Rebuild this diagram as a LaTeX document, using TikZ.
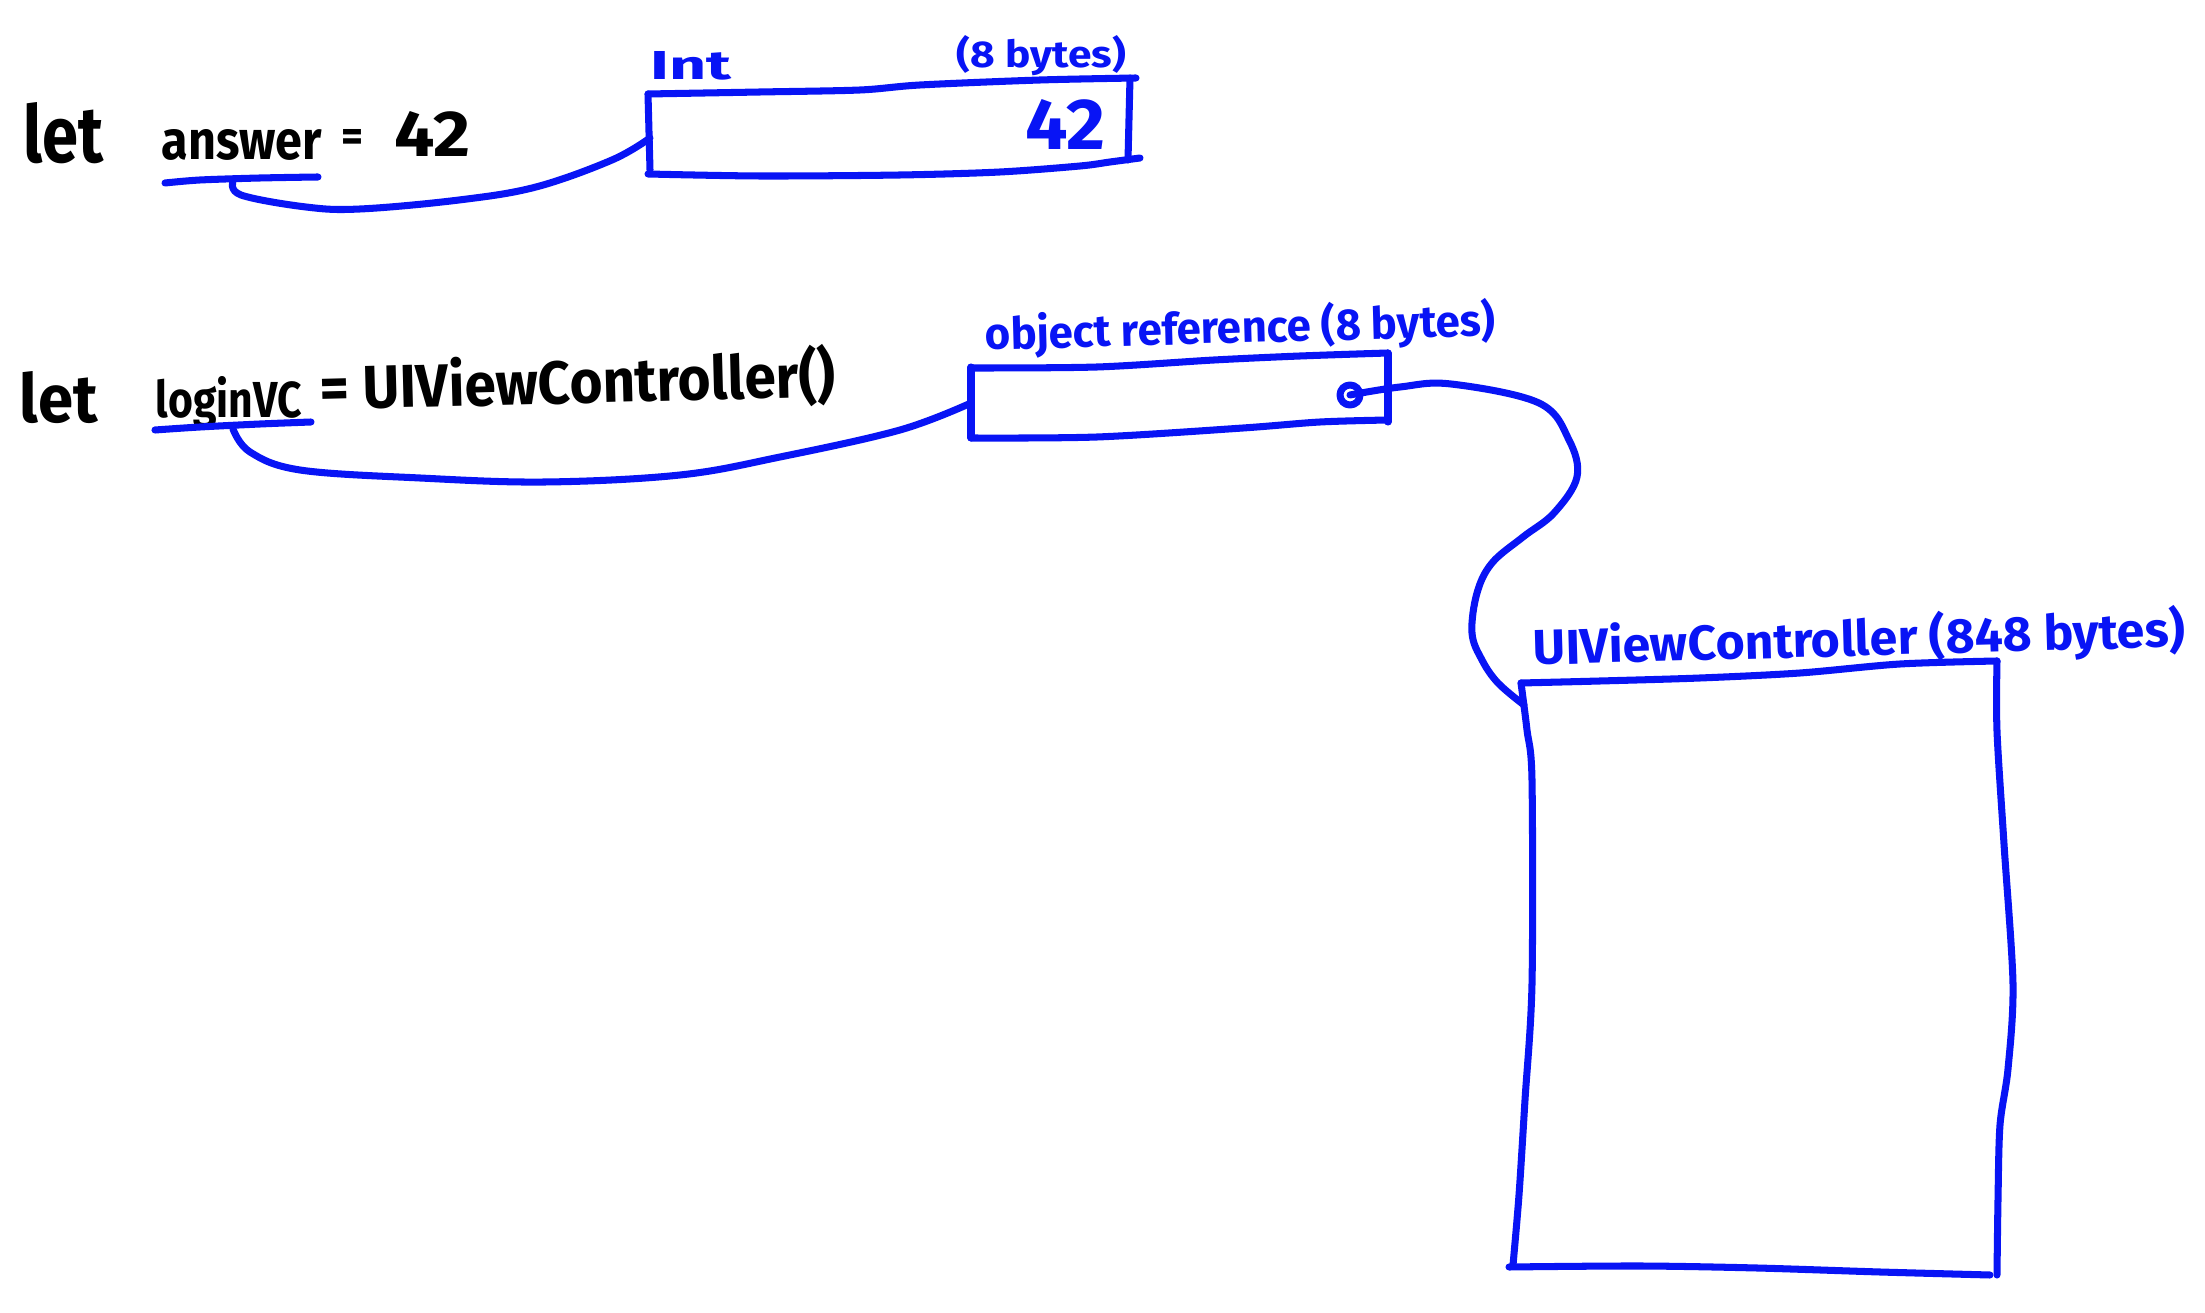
\documentclass[tikz,border=0pt]{standalone}
\usepackage{fontspec}
\setmainfont{Fira Sans}
\usepackage{graphicx}
\definecolor{ink}{RGB}{8,20,245}
\begin{document}
\begin{tikzpicture}[x=0.01cm,y=-0.01cm, line cap=round, line join=round,
  pen/.style={draw=ink, line width=2pt},
  code/.style={inner sep=0, anchor=base west, text=black, font=\bfseries},
  note/.style={inner sep=0, anchor=base west, text=ink, font=\bfseries}]
\useasboundingbox[fill=white] (0,0) rectangle (2205,1313);

% ---- code texts
\node[code] (let1) at (23,163) {\resizebox{0.80cm}{0.60cm}{let}};
\node[code] (answer) at (161,160) {\resizebox{1.60cm}{0.30cm}{answer}};
\node[code] (eq1) at (341,152) {\resizebox{0.22cm}{0.22cm}{=}};
\node[code] (v42) at (394,157) {\resizebox{0.76cm}{0.45cm}{42}};

\node[code] (let2) at (19,423) {\resizebox{0.78cm}{0.51cm}{let}};
\node[code] (login) at (155,418) {\resizebox{1.46cm}{0.41cm}{loginVC}};
\node[code, rotate=1.5] (ctor) at (320,410) {\resizebox{5.15cm}{0.52cm}{= UIViewController()}};

% ---- blue labels
\node[note] (intlbl) at (650,80) {\resizebox{0.81cm}{0.28cm}{Int}};
\node[note] (intsize) at (956,68) {\resizebox{1.69cm}{0.32cm}{(8 bytes)}};
\node[note] (val) at (1025,150) {\resizebox{0.80cm}{0.50cm}{42}};
\node[note, rotate=1.6] (reflbl) at (985,350) {\resizebox{5.1cm}{0.38cm}{object reference (8 bytes)}};
\node[note, rotate=1.6] (vclbl) at (1533,665) {\resizebox{6.52cm}{0.42cm}{UIViewController (848 bytes)}};

% ---- Int box
\draw[pen] plot[smooth, tension=0.5] coordinates {(648,94) (760,92) (860,90) (920,85) (1040,80) (1136,78)};
\draw[pen] (1130,78) -- (1128,160);
\draw[pen] plot[smooth, tension=0.5] coordinates {(648,174) (760,176) (900,175) (1000,172) (1080,166) (1110,162) (1140,158)};
\draw[pen] (648,94) -- (650,170);

% ---- object reference box
\draw[pen] plot[smooth, tension=0.5] coordinates {(971,368) (1097,367) (1214,360) (1300,356) (1388,353)};
\draw[pen] (1388,353) -- (1388,422);
\draw[pen] plot[smooth, tension=0.5] coordinates {(971,438) (1097,437) (1243,428) (1320,422) (1388,420)};
\draw[pen] (971,367) -- (971,438);
\draw[pen] (1350,395) circle (10);
\fill[ink] (1350,395) circle (3);

% ---- UIViewController box
\draw[pen] plot[smooth, tension=0.5] coordinates {(1521,683) (1600,681) (1700,678) (1800,673) (1900,664) (1997,661)};
\draw[pen] plot[smooth, tension=0.5] coordinates {(1521,683) (1527,730) (1532,780) (1532,984) (1525,1100) (1519,1195) (1513,1265)};
\draw[pen] plot[smooth, tension=0.5] coordinates {(1509,1267) (1640,1266) (1757,1268) (1880,1272) (1990,1275)};
\draw[pen] plot[smooth, tension=0.5] coordinates {(1997,661) (1997,731) (2004,844) (2013,984) (2008,1069) (2000,1125) (1998,1200) (1997,1275)};

% ---- underlines
\coordinate (ansU) at (233,181);
\coordinate (loginU) at (233,429);
\draw[pen] plot[smooth] coordinates {(165,183) (200,180) (260,178) (318,177)};
\draw[pen] plot[smooth] coordinates {(155,430) (200,427) (260,424) (311,422)};

% ---- connectors
\coordinate (intL) at (650,138);
\coordinate (refL) at (971,403);
\coordinate (dot) at (1350,395);
\coordinate (vcL) at (1524,705);
\draw[pen] plot[smooth, tension=0.6] coordinates {(ansU) (241,195) (306,207) (360,209) (459,200) (536,187) (612,160) (intL)};
\draw[pen] plot[smooth, tension=0.6] coordinates {(loginU) (250,452) (300,470) (420,478) (545,482) (680,475) (780,457) (900,430) (refL)};
\draw[pen] plot[smooth, tension=0.6] coordinates {(dot) (1400,387) (1451,384) (1539,403) (1569,440) (1577,477) (1554,513) (1523,537) (1492,563) (1477,593) (1472,633) (1482,660) (1498,683) (vcL)};
\end{tikzpicture}
\end{document}
